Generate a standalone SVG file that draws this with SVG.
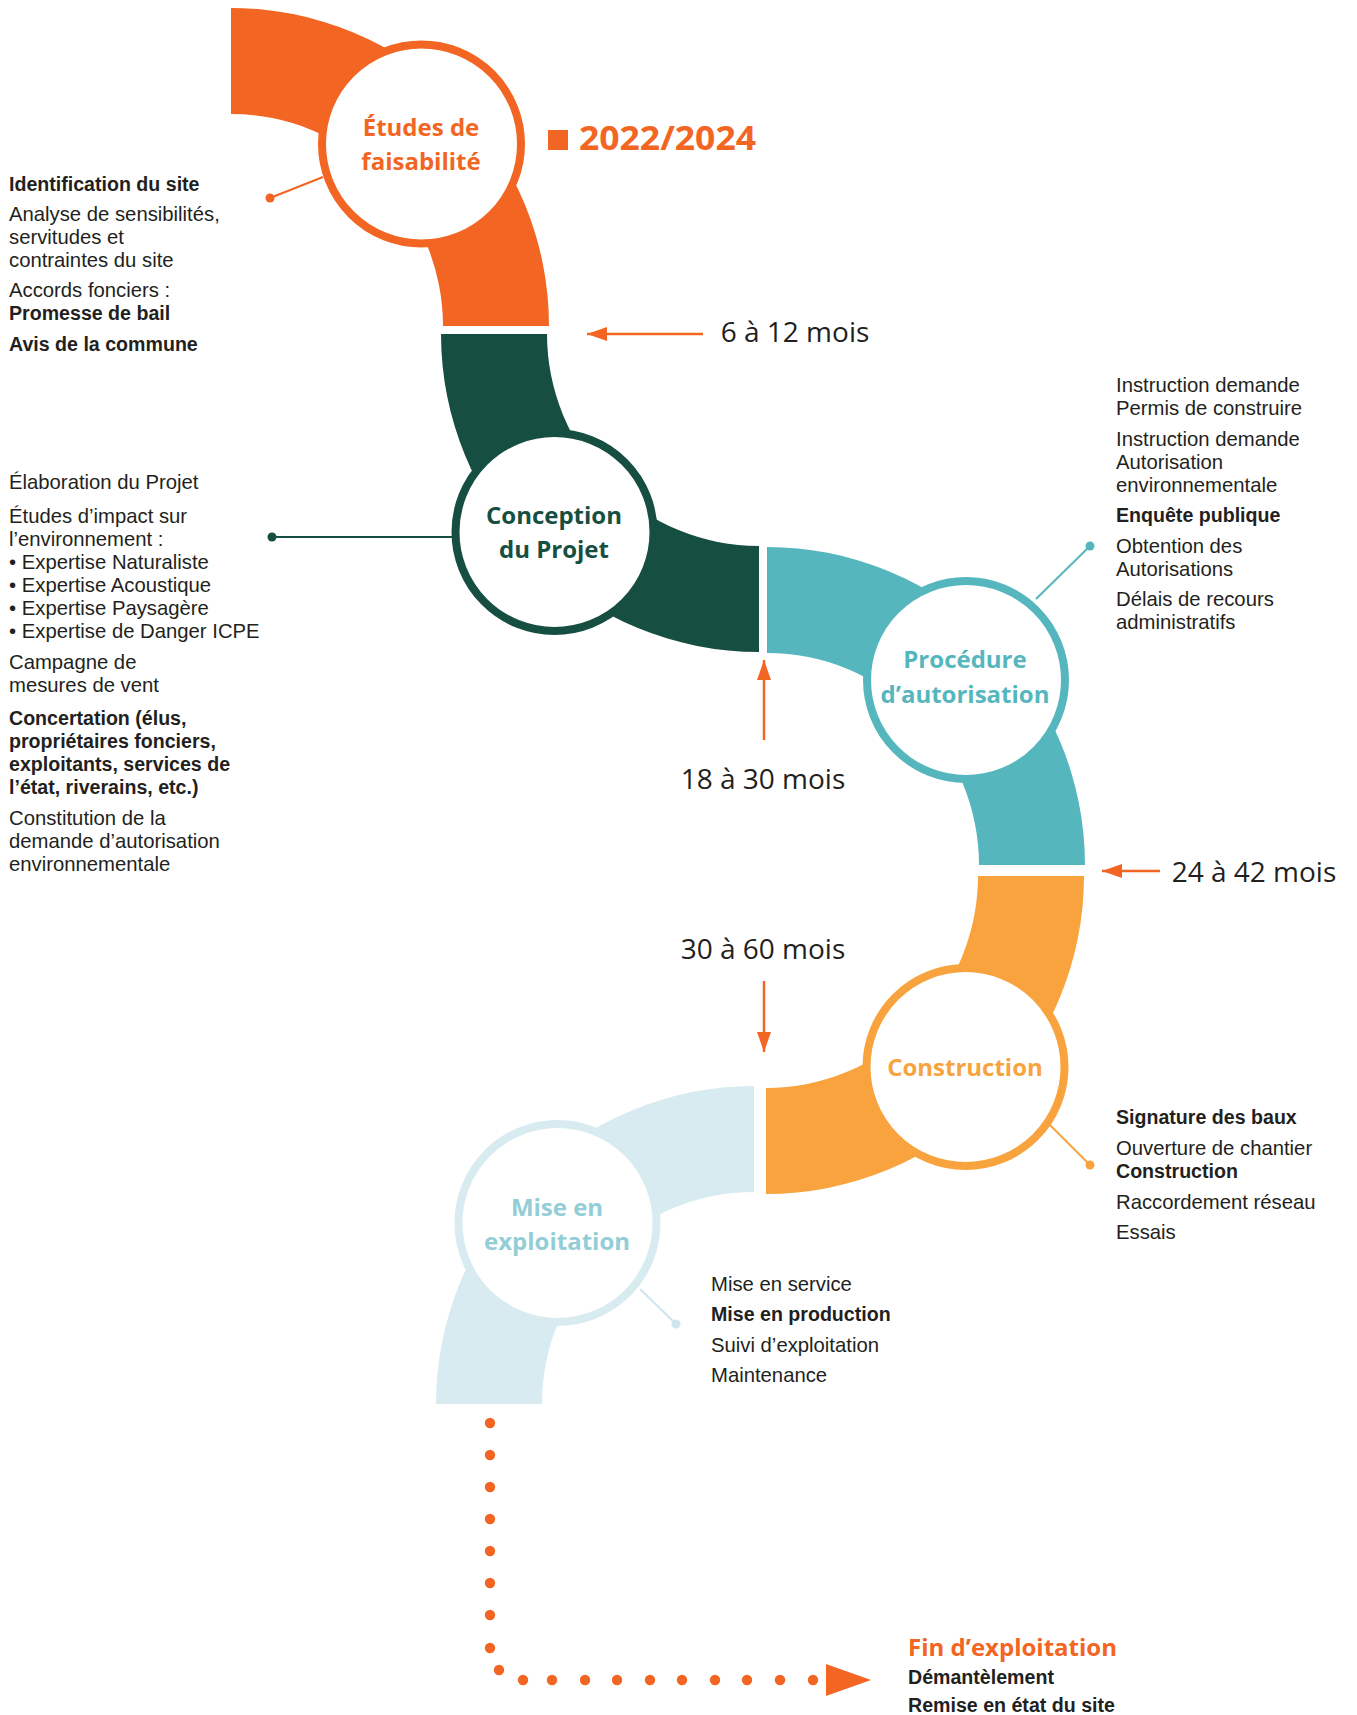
<svg xmlns="http://www.w3.org/2000/svg" width="1357" height="1715" viewBox="0 0 1357 1715">
  <style>
    text { font-family: "Liberation Sans", Arial, sans-serif; fill: #231F20; font-size: 20.3px; font-weight: 400; }
    .b { font-size: 19.6px; font-weight: 700; }
    .title { font-family: "Open Sans", "Liberation Sans", sans-serif; font-size: 24px; font-weight: 700; text-anchor: middle; }
    .dur { font-family: "Open Sans", "Liberation Sans", sans-serif; font-size: 28px; font-weight: 400; text-anchor: middle; }
    .ring { fill: #FFFFFF; stroke-width: 8; }
    .lead { stroke-width: 2; fill: none; }
    .arrow { stroke: #F26522; stroke-width: 2.5; fill: none; marker-end: url(#ah); }
    .edot { fill: #F26522; }
  </style>
  <defs>
    <marker id="ah" markerUnits="userSpaceOnUse" markerWidth="22" markerHeight="16" refX="20" refY="7" orient="auto">
      <path d="M0,0 L20,7 L0,14 Z" fill="#F26522"/>
    </marker>
  </defs>
  <rect width="1357" height="1715" fill="#FFFFFF"/>

  <!-- Node 1: Études de faisabilité -->
  <g id="node-etudes">
    <path d="M231,8 A318,318 0 0 1 549,326 L443,326 A212,212 0 0 0 231,114 Z" fill="#F26522"/>
    <circle cx="421.5" cy="144" r="99.5" class="ring" stroke="#F26522"/>
    <text class="title" style="fill:#F26522"><tspan x="421" y="136">Études de</tspan><tspan x="421" y="170">faisabilité</tspan></text>
    <text id="notes-etudes">
      <tspan class="b" x="9" y="191">Identification du site</tspan>
      <tspan x="9" y="221">Analyse de sensibilités,</tspan>
      <tspan x="9" y="244">servitudes et</tspan>
      <tspan x="9" y="267">contraintes du site</tspan>
      <tspan x="9" y="297">Accords fonciers :</tspan>
      <tspan class="b" x="9" y="320">Promesse de bail</tspan>
      <tspan class="b" x="9" y="351">Avis de la commune</tspan>
    </text>
  </g>

  <!-- Year label -->
  <g id="year">
    <rect x="548" y="130" width="20" height="20" fill="#F26522"/>
    <text x="579" y="150" style="font-family:'Open Sans','Liberation Sans',sans-serif;font-size:34px;font-weight:700;fill:#F26522" textLength="177" lengthAdjust="spacingAndGlyphs">2022/2024</text>
  </g>

  <!-- Node 2: Conception du Projet -->
  <g id="node-conception">
    <path d="M441,334 A318,318 0 0 0 759,652 L759,546 A212,212 0 0 1 547,334 Z" fill="#164F42"/>
    <circle cx="554.5" cy="532" r="99" class="ring" stroke="#164F42"/>
    <text class="title" style="fill:#164F42"><tspan x="554" y="524">Conception</tspan><tspan x="554" y="558">du Projet</tspan></text>
    <text id="notes-conception">
      <tspan x="9" y="489">Élaboration du Projet</tspan>
      <tspan x="9" y="523">Études d’impact sur</tspan>
      <tspan x="9" y="546">l’environnement :</tspan>
      <tspan x="9" y="569">• Expertise Naturaliste</tspan>
      <tspan x="9" y="592">• Expertise Acoustique</tspan>
      <tspan x="9" y="615">• Expertise Paysagère</tspan>
      <tspan x="9" y="638">• Expertise de Danger ICPE</tspan>
      <tspan x="9" y="669">Campagne de</tspan>
      <tspan x="9" y="692">mesures de vent</tspan>
      <tspan class="b" x="9" y="725">Concertation (élus,</tspan>
      <tspan class="b" x="9" y="748">propriétaires fonciers,</tspan>
      <tspan class="b" x="9" y="771">exploitants, services de</tspan>
      <tspan class="b" x="9" y="794">l’état, riverains, etc.)</tspan>
      <tspan x="9" y="825">Constitution de la</tspan>
      <tspan x="9" y="848">demande d’autorisation</tspan>
      <tspan x="9" y="871">environnementale</tspan>
    </text>
  </g>

  <!-- Node 3: Procédure d'autorisation -->
  <g id="node-procedure">
    <path d="M767,547 A318,318 0 0 1 1085,865 L979,865 A212,212 0 0 0 767,653 Z" fill="#56B6BE"/>
    <circle cx="966" cy="680" r="99" class="ring" stroke="#56B6BE"/>
    <text class="title" style="fill:#56B6BE"><tspan x="965" y="668">Procédure</tspan><tspan x="965" y="703">d’autorisation</tspan></text>
    <text id="notes-procedure">
      <tspan x="1116" y="392">Instruction demande</tspan>
      <tspan x="1116" y="415">Permis de construire</tspan>
      <tspan x="1116" y="446">Instruction demande</tspan>
      <tspan x="1116" y="469">Autorisation</tspan>
      <tspan x="1116" y="492">environnementale</tspan>
      <tspan class="b" x="1116" y="522">Enquête publique</tspan>
      <tspan x="1116" y="553">Obtention des</tspan>
      <tspan x="1116" y="576">Autorisations</tspan>
      <tspan x="1116" y="606">Délais de recours</tspan>
      <tspan x="1116" y="629">administratifs</tspan>
    </text>
  </g>

  <!-- Node 4: Construction -->
  <g id="node-construction">
    <path d="M1084,876 A318,318 0 0 1 766,1194 L766,1088 A212,212 0 0 0 978,876 Z" fill="#F8A33D"/>
    <circle cx="965.5" cy="1067" r="99" class="ring" stroke="#F8A33D"/>
    <text class="title" x="965" y="1076" style="fill:#F8A33D">Construction</text>
    <text id="notes-construction">
      <tspan class="b" x="1116" y="1124">Signature des baux</tspan>
      <tspan x="1116" y="1155">Ouverture de chantier</tspan>
      <tspan class="b" x="1116" y="1178">Construction</tspan>
      <tspan x="1116" y="1209">Raccordement réseau</tspan>
      <tspan x="1116" y="1239">Essais</tspan>
    </text>
  </g>

  <!-- Node 5: Mise en exploitation -->
  <g id="node-exploitation">
    <path d="M754,1086 A318,318 0 0 0 436,1404 L542,1404 A212,212 0 0 1 754,1192 Z" fill="#D8EBF0"/>
    <circle cx="557.5" cy="1223" r="99" class="ring" stroke="#D8EBF0"/>
    <text class="title" style="fill:#93CDD6"><tspan x="557" y="1216">Mise en</tspan><tspan x="557" y="1250">exploitation</tspan></text>
    <text id="notes-exploitation">
      <tspan x="711" y="1291">Mise en service</tspan>
      <tspan class="b" x="711" y="1321">Mise en production</tspan>
      <tspan x="711" y="1352">Suivi d’exploitation</tspan>
      <tspan x="711" y="1382">Maintenance</tspan>
    </text>
  </g>

  <!-- Node 6: Fin d'exploitation -->
  <g id="node-fin">
    <text><tspan x="908" y="1656" style="font-family:'Open Sans','Liberation Sans',sans-serif;font-size:24px;font-weight:700;fill:#F26522">Fin d’exploitation</tspan><tspan class="b" x="908" y="1684">Démantèlement</tspan><tspan class="b" x="908" y="1712">Remise en état du site</tspan></text>
  </g>

  <!-- Connectors -->
  <g id="connectors">
    <line class="lead" x1="323" y1="177" x2="270" y2="198" stroke="#F26522"/>
    <circle cx="270" cy="198" r="4.5" fill="#F26522"/>
    <line class="lead" x1="452" y1="537" x2="272" y2="537" stroke="#164F42"/>
    <circle cx="272" cy="537" r="4.5" fill="#164F42"/>
    <line class="lead" x1="1036" y1="599" x2="1090" y2="546" stroke="#56B6BE"/>
    <circle cx="1090" cy="546" r="4.5" fill="#56B6BE"/>
    <line class="lead" x1="1050" y1="1125" x2="1090" y2="1165" stroke="#F8A33D"/>
    <circle cx="1090" cy="1165" r="4.5" fill="#F8A33D"/>
    <line class="lead" x1="640" y1="1289" x2="676" y2="1324" stroke="#CDE5EC"/>
    <circle cx="676" cy="1324" r="4.5" fill="#CDE5EC"/>

    <line class="arrow" x1="703" y1="334" x2="587" y2="334"/>
    <line class="arrow" x1="764" y1="740" x2="764" y2="660"/>
    <line class="arrow" x1="1160" y1="871" x2="1102" y2="871"/>
    <line class="arrow" x1="764" y1="981" x2="764" y2="1052"/>

    <g id="dotted-arrow">
      <circle class="edot" cx="490" cy="1423" r="5.2"/>
      <circle class="edot" cx="490" cy="1455" r="5.2"/>
      <circle class="edot" cx="490" cy="1487" r="5.2"/>
      <circle class="edot" cx="490" cy="1519" r="5.2"/>
      <circle class="edot" cx="490" cy="1551" r="5.2"/>
      <circle class="edot" cx="490" cy="1583" r="5.2"/>
      <circle class="edot" cx="490" cy="1615" r="5.2"/>
      <circle class="edot" cx="490" cy="1648" r="5.2"/>
      <circle class="edot" cx="499" cy="1670" r="5.2"/>
      <circle class="edot" cx="523" cy="1680" r="5.2"/>
      <circle class="edot" cx="552" cy="1680" r="5.2"/>
      <circle class="edot" cx="585" cy="1680" r="5.2"/>
      <circle class="edot" cx="617" cy="1680" r="5.2"/>
      <circle class="edot" cx="650" cy="1680" r="5.2"/>
      <circle class="edot" cx="682" cy="1680" r="5.2"/>
      <circle class="edot" cx="715" cy="1680" r="5.2"/>
      <circle class="edot" cx="747" cy="1680" r="5.2"/>
      <circle class="edot" cx="780" cy="1680" r="5.2"/>
      <circle class="edot" cx="813" cy="1680" r="5.2"/>
      <path d="M826,1664 L871,1680 L826,1696 Z" fill="#F26522"/>
    </g>
  </g>

  <!-- Duration labels -->
  <g id="durations">
    <text class="dur" x="795" y="342">6 à 12 mois</text>
    <text class="dur" x="763" y="789">18 à 30 mois</text>
    <text class="dur" x="1254" y="882">24 à 42 mois</text>
    <text class="dur" x="763" y="959">30 à 60 mois</text>
  </g>
</svg>
